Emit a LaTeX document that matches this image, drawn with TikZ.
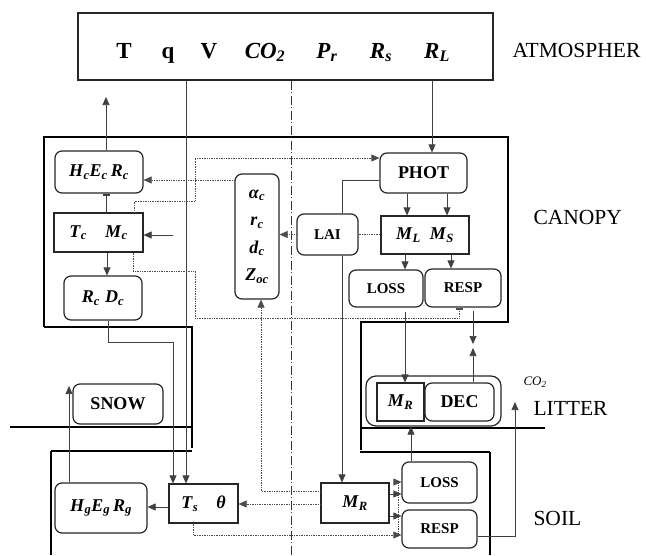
\documentclass[tikz,border=0pt]{standalone}
\usepackage{fontspec}
\setmainfont{Liberation Serif}
\usetikzlibrary{arrows.meta,calc}
\newcommand{\bi}[1]{\textbf{\textit{#1}}}
\newcommand{\vs}[2]{\bi{#1}\textsubscript{\bi{#2}}}
\begin{document}
\begin{tikzpicture}[x=1pt,y=-1pt,
  box/.style={draw=black!85, line width=1.2pt, inner sep=0pt, align=center,
    font=\bfseries\fontsize{15}{17}\selectfont},
  rbox/.style={box, rounded corners=7pt},
  big/.style={font=\bfseries\fontsize{18}{20}\selectfont},
  wire/.style={draw=black!75, line width=0.7pt},
  arr/.style={wire, -{Triangle[length=8pt,width=7pt]}},
  dot/.style={draw=black!70, line width=0.7pt, densely dotted},
  darr/.style={dot, -{Triangle[length=8pt,width=7pt]}},
  dbar/.style={dot, -{Rectangle[length=2pt,width=7pt]}},
  wbar/.style={wire, -{Rectangle[length=2pt,width=7pt]}},
  bnd/.style={line width=2.8pt, black},
  mid/.style={line width=1.6pt, black},
  lbl/.style={anchor=west, font=\fontsize{21.5}{24}\selectfont},
  atx/.style={anchor=base, font=\bfseries\fontsize{23}{25}\selectfont}
]
\useasboundingbox (0,0) rectangle (646,555);

% ---------- boundaries ----------
\draw[bnd] (44,327) -- (44,137) -- (508,137) -- (508,322) -- (361,322) -- (361,450);
\draw[bnd] (44,327) -- (192,327) -- (192,448);
\draw[bnd] (10,427) -- (192,427);
\draw[bnd] (361,428) -- (545,428);
\draw[bnd] (51,555) -- (51,451);
\draw[mid] (51,451) -- (192,451);
\draw[mid] (360,452) -- (490,452);
\draw[bnd] (490,452) -- (490,555);

% ---------- atmosphere ----------
\node[box, minimum width=415pt, minimum height=67pt] (atm) at (285.5,46.5) {};
\node[atx] (tT) at (124,58) {T};
\node[atx] (tq) at (168,58) {q};
\node[atx] (tV) at (209,58) {V};
\node[atx] (tC) at (265,58) {\vs{CO}{2}};
\node[atx] (tP) at (327,58) {\vs{P}{r}};
\node[atx] (tRs) at (381,58) {\vs{R}{s}};
\node[atx] (tRL) at (437,58) {\vs{R}{L}};

% centre line
\draw[black!80, line width=0.8pt, dash pattern=on 9pt off 2.5pt on 1pt off 2.5pt] (atm.south -| 291,0) -- (291,555);

% ---------- canopy nodes ----------
\node[rbox, big, minimum width=88pt, minimum height=42pt] (Hc) at (99,172) {\vs{H}{c}\vs{E}{c}\,\vs{R}{c}};
\node[box, big, minimum width=89pt, minimum height=39pt] (Tc) at (98.5,232.5) {\vs{T}{c}\quad\vs{M}{c}};
\node[rbox, big, minimum width=78pt, minimum height=44pt] (Rc) at (103,298) {\vs{R}{c}\;\vs{D}{c}};
\node[rbox, minimum width=44pt, minimum height=125pt, font=\bfseries\fontsize{18}{27.5}\selectfont] (alpha) at (257,236.5) {\vs{α}{c}\\\vs{r}{c}\\\vs{d}{c}\\\vs{Z}{oc}};
\node[rbox, minimum width=61pt, minimum height=41pt] (LAI) at (327.5,234.5) {LAI};
\node[rbox, big, minimum width=87pt, minimum height=40pt] (PHOT) at (423.5,173) {PHOT};
\node[box, big, minimum width=88pt, minimum height=38pt] (ML) at (425,235) {\vs{M}{L}\enspace\vs{M}{S}};
\node[rbox, minimum width=74pt, minimum height=37pt] (LOSSc) at (386,288.5) {LOSS};
\node[rbox, minimum width=76pt, minimum height=38pt] (RESPc) at (463,288) {RESP};

% ---------- litter nodes ----------
\node[rbox, minimum width=135pt, minimum height=50pt, rounded corners=10pt] (litter) at (433.5,401) {};
\node[box, big, minimum width=47pt, minimum height=38pt] (MRl) at (400.5,402) {\vs{M}{R}};
\node[rbox, big, minimum width=69pt, minimum height=38pt] (DEC) at (459.5,402) {DEC};
\node[rbox, big, minimum width=90pt, minimum height=40pt] (SNOW) at (118,404) {SNOW};

% ---------- soil nodes ----------
\node[rbox, big, minimum width=92pt, minimum height=50pt] (Hg) at (101,508) {\vs{H}{g}\vs{E}{g}\,\vs{R}{g}};
\node[box, big, minimum width=69pt, minimum height=39pt] (Ts) at (203.5,503.5) {\vs{T}{s}\quad\bi{θ}};
\node[box, big, minimum width=68pt, minimum height=40pt] (MRs) at (355,503) {\vs{M}{R}};
\node[rbox, minimum width=75pt, minimum height=41pt] (LOSSs) at (439.5,482.5) {LOSS};
\node[rbox, minimum width=75pt, minimum height=38pt] (RESPs) at (439.5,529) {RESP};

% ---------- labels ----------
\node[lbl] (lA) at (509,50) {ATMOSPHER};
\node[lbl] (lC) at (530,217) {CANOPY};
\node[lbl] (lL) at (530,408) {LITTER};
\node[lbl] (lS) at (530,518) {SOIL};
\node[anchor=west, font=\fontsize{13}{15}\selectfont] (co2) at (520,382) {\textit{CO}\textsubscript{\textit{2}}};

% ---------- helper coordinates ----------
\coordinate (up1) at (106,97);
\coordinate (in1) at (173,235);
\coordinate (k1) at (173,342);
\coordinate (q1) at (186,300);
\coordinate (p1) at (432,100);
\coordinate (a1) at (0,180);
\coordinate (d1) at (195,201);
\coordinate (d2) at (0,158);
\coordinate (d3) at (195,271);
\coordinate (d4) at (195,318);
\coordinate (d5) at (459,318);
\coordinate (e1) at (342,180);
\coordinate (f1) at (407,0);
\coordinate (f2) at (447,0);
\coordinate (g1) at (405,0);
\coordinate (g2) at (451,0);
\coordinate (h1) at (473,344);
\coordinate (h2) at (473,348);
\coordinate (i1) at (411,0);
\coordinate (j1) at (0,536);
\coordinate (j2) at (515,402);
\coordinate (k2) at (0,494);
\coordinate (k3) at (0,516);
\coordinate (l1) at (398,535);
\coordinate (l2) at (0,482);
\coordinate (m1) at (261,491);
\coordinate (n1) at (0,504);
\coordinate (o1) at (0,507);
\coordinate (o2) at (69,386);

% ---------- solid connectors ----------
\draw[arr] (Hc.north -| up1) -- (up1);
\draw[wbar] (Tc.north -| up1) -- (Hc.south -| up1);
\draw[arr] (in1) -- (Tc.east |- in1);
\draw[arr] ([xshift=8.5pt]Tc.south) -- ([xshift=4pt]Rc.north);
\draw[arr] ([xshift=5pt]Rc.south) |- (k1) -- (Ts.north -| k1);
\draw[arr] (atm.south -| q1) -- (Ts.north -| q1);
\draw[arr] (atm.south -| p1) -- (PHOT.north -| p1);
\draw[wire] (PHOT.west |- e1) -| (LAI.north -| e1);
\draw[arr] (LAI.south -| e1) -- (MRs.north -| e1);
\draw[arr] (PHOT.south -| f1) -- (ML.north -| f1);
\draw[arr] (PHOT.south -| f2) -- (ML.north -| f2);
\draw[arr] (ML.south -| g1) -- (LOSSc.north -| g1);
\draw[arr] (ML.south -| g2) -- (RESPc.north -| g2);
\draw[arr] ([yshift=-4pt]LOSSc.south -| g1) -- (MRl.north -| g1);
\draw[arr] ([yshift=-3pt]RESPc.south -| h1) -- (h1);
\draw[arr] (DEC.north -| h2) -- (h2);
\draw[arr] (LOSSs.north -| i1) -- (litter.south -| i1);
\draw[arr] (RESPs.east |- j1) -| (j2);
\draw[arr] (MRs.east |- k2) -- (LOSSs.west |- k2);
\draw[arr] (MRs.east |- k3) -- (RESPs.west |- k3);
\draw[arr] (Ts.west |- o1) -- (Hg.east |- o1);
\draw[arr] (Hg.north -| o2) -- (o2);

% ---------- dotted connectors ----------
\draw[darr] (alpha.west |- a1) -- (Hc.east |- a1);
\draw[darr] ([xshift=35.5pt]Tc.north) |- (d1) |- (PHOT.west |- d2);
\draw[dbar] ([xshift=34.5pt]Tc.south) |- (d3) -- (d4) -- (d5) -- (RESPc.south -| d5);
\draw[darr] (LAI.west) -- (alpha.east |- LAI.west);
\draw[dot] (LAI.east) -- (ML.west |- LAI.east);
\draw[dot] ([xshift=-10.5pt]Ts.south) |- (l1);
\draw[darr] (l1) -- (RESPs.west |- l1);
\draw[darr] (l1) |- (LOSSs.west |- l2);
\draw[darr] (MRs.west |- m1) -| (alpha.south -| m1);
\draw[darr] (MRs.west |- n1) -- (Ts.east |- n1);
\end{tikzpicture}
\end{document}
